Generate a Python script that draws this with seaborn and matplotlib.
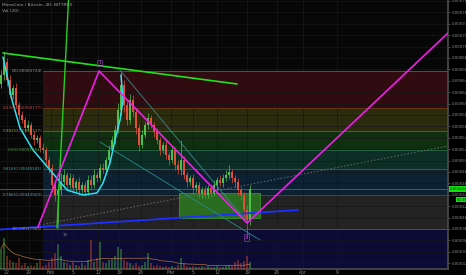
import numpy as np
import pandas as pd
import matplotlib
matplotlib.use("Agg")
import matplotlib.pyplot as plt
import matplotlib.transforms as mtransforms
import seaborn as sns

# ---------------- data (prices in satoshi, 1e-8 BTC) ----------------
closes = [65020, 67300, 64140, 61510, 62740, 59750, 58000, 57120, 55720, 56250,
          54490, 53610, 53960, 52210, 51860, 50110, 48700, 45720, 43960, 44840,
          46250, 47470, 45720, 46950, 45190, 46250, 44840, 45720, 44490, 46600,
          45720, 47470, 46950, 48700, 48350, 50110, 51860, 53610, 55370, 58880,
          63260, 59750, 57120, 60630, 58530, 55720, 52740, 54490, 56250, 57470,
          56250, 55020, 53610, 51860, 52740, 50980, 50110, 51860, 49230, 48350,
          50110, 47470, 46250, 46950, 45190, 45720, 44320, 44840, 43960, 45190,
          44320, 45720, 46600, 46070, 46950, 47470, 48000, 46950, 46250, 44840,
          43960, 41330, 39580, 45020]
first_open = 63500
wick_hi = [900, 1750, 700, 800, 600, 900, 500, 700, 600, 800,
           500, 700, 600, 500, 800, 600, 500, 700, 900, 1200,
           1500, 1100, 600, 900, 700, 500, 800, 600, 700, 900,
           800, 1000, 600, 700, 900, 600, 800, 700, 900, 1200,
           2300, 900, 700, 1100, 800, 600, 700, 900, 600, 800,
           500, 600, 700, 500, 600, 800, 500, 700, 600, 800,
           3500, 700, 500, 600, 700, 500, 600, 500, 700, 600,
           500, 800, 600, 900, 700, 800, 1300, 600, 500, 700,
           500, 600, 900, 700]
wick_lo = [700, 800, 1000, 600, 700, 500, 800, 600, 700, 500,
           600, 800, 500, 700, 600, 900, 800, 1200, 1000, 5800,
           900, 700, 800, 600, 900, 700, 800, 600, 700, 500,
           800, 600, 700, 600, 500, 700, 600, 500, 700, 600,
           800, 1200, 900, 700, 800, 1000, 1100, 600, 500, 700,
           600, 800, 700, 900, 600, 700, 800, 600, 900, 700,
           800, 700, 900, 600, 800, 700, 900, 800, 700, 600,
           700, 600, 800, 600, 700, 600, 700, 800, 900, 800,
           900, 1200, 3160, 900]
volume = [18, 28, 12, 8, 6, 5, 10, 4, 5, 3,
          4, 3, 5, 8, 3, 4, 6, 10, 14, 22,
          12, 6, 5, 4, 6, 4, 3, 5, 4, 8,
          26, 6, 10, 24, 6, 5, 8, 9, 12, 20,
          18, 8, 6, 5, 4, 5, 3, 4, 6, 14,
          5, 3, 4, 3, 2, 3, 2, 3, 2, 4,
          10, 5, 3, 2, 3, 2, 2, 3, 2, 3,
          2, 2, 3, 2, 2, 3, 4, 3, 6, 8,
          5, 7, 12, 6]

# Fibonacci retracement
fib_high = 65724
fib_low = 37984
fib_start = 14.0
fib_levels = [0, 0.236, 0.382, 0.5, 0.618, 0.786, 1, 1.618]

# drawing tools (bar index, price)
lime_x, lime_y = [0.67, 78.67], [68880, 63440]
lime2_x, lime2_y = [18.67, 22.67], [38180, 79930]
mag_x, mag_y = [12.33, 32.67, 82.0, 149.0], [38350, 65720, 39050, 72390]
teal1_x, teal1_y = [39.67, 82.0], [65890, 39230]
teal2_x, teal2_y = [33.0, 86.33], [53260, 36070]
dot_x, dot_y = [13.0, 149.0], [38700, 52560]
blue_x, blue_y = [-0.33, 99.0], [37910, 41330]
cup_x = [0.67, 2.33, 3.67, 6.33, 10.67, 16.33, 22.0, 27.33, 32.0, 34.0, 36.33, 38.0, 39.67, 40.67, 40.0]
cup_y = [68170, 64140, 60630, 55720, 51860, 48350, 44840, 43960, 44320, 46070, 49580, 53610, 57120, 60630, 65020]
box_x = [59.33, 86.33]
box_y = [39930, 44310]

xtick_labels = ["22", "29", "Feb", "5", "12", "19", "26", "Mar", "5", "12", "19", "26", "Apr", "9"]
xtick_pos = [2, 9.33, 16.67, 24, 32.33, 39.33, 46.67, 56.67, 64, 72, 82, 92, 100.67, 112]

# ---------------- styling ----------------
sns.set_theme(style="dark", rc={
    "axes.facecolor": "#070707", "figure.facecolor": "#000000",
    "grid.color": "#171717", "axes.edgecolor": "#3a3a3a",
    "text.color": "#9a9a9a", "xtick.color": "#8a8a8a", "ytick.color": "#8a8a8a"})
plt.rcParams["font.family"] = ["DejaVu Sans"]

fig = plt.figure(figsize=(4.66, 2.75), dpi=100)
ax = fig.add_axes([0, 6 / 275, 448 / 466, 269 / 275])
ax2 = ax.twinx()
ax.set_xlim(-0.333, 149)
ax.set_ylim(30980, 78175)

# grid / ticks
ax.set_xticks(xtick_pos)
ax.set_xticklabels(xtick_labels, fontsize=3.3)
yt = np.arange(32000, 78001, 2000)
ax.set_yticks(yt)
ax.set_yticklabels([f"{v * 1e-8:.8f}" for v in yt], fontsize=2.9)
ax.yaxis.tick_right()
ax.yaxis.set_label_position("right")
ax.tick_params(axis="y", length=1.5, pad=1, width=0.4, color="#888", labelright=True, labelleft=False)
ax.tick_params(axis="x", length=0, pad=1)
ax.grid(True, color="#171717", lw=0.5)
ax.set_axisbelow(True)
for s in ["top", "left"]:
    ax.spines[s].set_visible(False)
ax.spines["right"].set_color("#4a4a4a")
ax.spines["bottom"].set_color("#4a4a4a")

# fib bands
band_colors = ["#300c10", "#2b2b0e", "#0f300e", "#0d2e24", "#0c2233", "#232323", "#0b0b35"]
line_colors = ["#5a5a5a", "#6b3a16", "#3b7a1a", "#2a6a4a", "#1f6a7a", "#4a4a5a", "#555566", "#444"]
text_colors = ["#9a9a9a", "#c05050", "#a0a040", "#50a050", "#40a0a0", "#60a0c0", "#9a9a9a", "#9a9a9a"]
fib_prices = [fib_high - l * (fib_high - fib_low) for l in fib_levels]
xr = [fib_start, 149]
for i in range(len(fib_levels) - 1):
    ax.fill_between(xr, fib_prices[i + 1], fib_prices[i], color=band_colors[i], lw=0, zorder=0.5)
for i, (l, p) in enumerate(zip(fib_levels, fib_prices)):
    ax.plot(xr, [p, p], color=line_colors[i], lw=0.6, zorder=0.6)
    if l <= 1:
        ax.text(fib_start - 0.3, p, f"{l:g}({p * 1e-8:.8f})", fontsize=3.0,
                color=text_colors[i], ha="right", va="center", zorder=3)

# green box
ax.fill_between(box_x, box_y[0], box_y[1], color="#2c7a20", alpha=0.85, lw=0.6,
                edgecolor="#3fa030", zorder=0.8)

# current price line
ax.axhline(closes[-1], color="#1f8f1f", lw=0.6, zorder=0.9)

# candles
n = len(closes)
idx = np.arange(n)
opens = [first_open] + closes[:-1]
df = pd.DataFrame({"i": idx, "open": opens, "close": closes})
df["high"] = df[["open", "close"]].max(axis=1) + np.array(wick_hi)
df["low"] = df[["open", "close"]].min(axis=1) - np.array(wick_lo)
up = df["close"] >= df["open"]
cols = np.where(up, "#4fbf4a", "#e0503a")
ax.vlines(df["i"], df["low"], df["high"], colors=cols, lw=0.5, zorder=2)
ax.bar(df["i"], (df["close"] - df["open"]).abs().clip(lower=150),
       bottom=df[["open", "close"]].min(axis=1), width=0.6, color=cols, lw=0, zorder=2.1)

# drawing tools via seaborn
def seg(xs, ys, **kw):
    sns.lineplot(x=xs, y=ys, ax=ax, sort=False, estimator=None, legend=False, **kw)

seg(dot_x, dot_y, color="#6a6a6a", lw=0.7, linestyle=(0, (1.5, 2)), zorder=1.5)
seg(blue_x, blue_y, color="#1f2fff", lw=1.3, zorder=2.5)
seg(teal1_x, teal1_y, color="#3a8a8a", lw=0.6, zorder=2.5)
seg(teal2_x, teal2_y, color="#2a8a8a", lw=0.6, zorder=2.5)
seg(cup_x, cup_y, color="#2fe0f0", lw=1.1, zorder=2.6)
seg(lime_x, lime_y, color="#22e01a", lw=1.2, zorder=2.7)
seg(lime2_x, lime2_y, color="#2acd1e", lw=1.0, zorder=2.7)
seg(mag_x, mag_y, color="#f01ee8", lw=1.2, zorder=2.8)
ax.set_xlim(-0.333, 149)
ax.set_ylim(30980, 78175)

# markers [1], [2]
for tx, ty, lab in [(32.8, 67100, "1"), (81.8, 36500, "2")]:
    ax.text(tx, ty, lab, fontsize=3.2, color="#e040e0", ha="center", va="center", zorder=4,
            bbox=dict(boxstyle="square,pad=0.25", fc="none", ec="#8040a0", lw=0.5))

ax.text(20.67, 36950, "10", fontsize=3.0, color="#8a8a8a", ha="left", va="center", zorder=3)

# volume
ax2.set_ylim(0, 240)
ax2.grid(False)
ax2.tick_params(axis="y", right=False, left=False, labelright=False, labelleft=False)
for s in ax2.spines.values():
    s.set_visible(False)
ax2.bar(idx, volume, width=0.7, color=cols, alpha=0.4, lw=0)
ma = pd.Series(volume).rolling(20, min_periods=1).mean()
sns.lineplot(x=idx, y=ma.values, ax=ax2, color="#d0894a", lw=0.5, alpha=0.8, legend=False)
ax2.set_xlim(-0.333, 149)
ax2.set_ylim(0, 240)
ax2.set_ylabel("")
ax2.set_yticks([])

# header texts
ax.text(2 / 448, 1 - 5 / 269, "MonaCoin / Bitcoin, 4H, BITTREX", transform=ax.transAxes,
        fontsize=3.2, color="#a0a0a0", ha="left", va="center")
ax.text(2 / 448, 1 - 11 / 269, "Vol (20)", transform=ax.transAxes,
        fontsize=3.2, color="#a0a0a0", ha="left", va="center")

# last price tag
trans = mtransforms.blended_transform_factory(ax.transAxes, ax.transData)
ax.text(1.003, closes[-1], f"{closes[-1] * 1e-8:.8f}", transform=trans, fontsize=2.8,
        color="#003300", ha="left", va="center", clip_on=False, zorder=10,
        bbox=dict(boxstyle="square,pad=0.2", fc="#11e011", ec="none"))
ax.text(1.02, closes[-1] - 1900, "00:36", transform=trans, fontsize=2.6,
        color="#003300", ha="left", va="center", clip_on=False, zorder=10,
        bbox=dict(boxstyle="square,pad=0.15", fc="#11e011", ec="none"))

fig.savefig("out.png", dpi=100, facecolor=fig.get_facecolor())
